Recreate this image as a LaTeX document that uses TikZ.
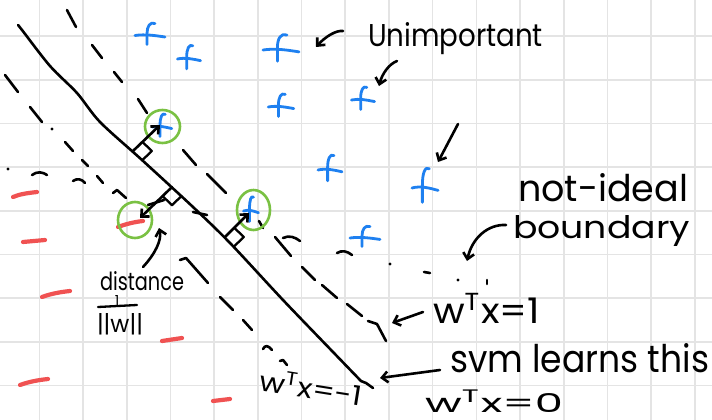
\documentclass[tikz,border=0pt]{standalone}
\usepackage{fontspec}
\setmainfont{Poppins}
\usepackage{graphicx}
\usetikzlibrary{arrows.meta}

\definecolor{gridgray}{HTML}{E4E4E4}
\definecolor{plusblue}{HTML}{1E80F0}
\definecolor{minusred}{HTML}{F05252}
\definecolor{svgreen}{HTML}{7AC143}

% handwritten-size label: width, height above baseline, text
\newcommand\handtext[3]{\resizebox{#1pt}{#2pt}{#3}}

\tikzset{
  ink/.style={line width=2.6pt, line cap=round, line join=round, black},
  gridline/.style={gridgray, line width=1.6pt},
  posstroke/.style={plusblue, line width=2.8pt, line cap=round, line join=round},
  negstroke/.style={minusred, line width=4.2pt, line cap=round},
  sv/.style={svgreen, line width=2.6pt},
  barb/.style={ink, -{Straight Barb[length=6pt,width=11pt]}},
  hand/.style={inner sep=0pt, outer sep=0pt, anchor=base west},
  pics/bplus/.style={code={
    \draw[posstroke] (-15,0) .. controls (-5,-1.5) and (5,0) .. (15,1.5);
    \draw[posstroke] (5,-12) .. controls (0,-14) and (-3,-9) .. (-3,-2) -- (-3,9);
  }},
}

\begin{document}
\begin{tikzpicture}[x=1pt,y=-1pt]
\useasboundingbox (0,0) rectangle (712,420);
\fill[white] (0,0) rectangle (712,420);

% squared paper
\foreach \k in {0,...,15} {
  \draw[gridline] ({39.3+43.7*\k},0) -- ({39.3+43.7*\k},420);
}
\foreach \k in {0,...,8} {
  \draw[gridline] (0,{36+43.7*\k}) -- (712,{36+43.7*\k});
}

% positive samples
\pic[xscale=1.0]               at (150,35.5) {bplus};
\pic[xscale=0.77,yscale=1.1]   at (189,59)   {bplus};
\pic[xscale=1.2,yscale=1.25]   at (281,50)   {bplus};
\pic[xscale=0.85,yscale=1.05]  at (281,107)  {bplus};
\pic[xscale=0.77,yscale=1.05]  at (363,100)  {bplus};
\pic[xscale=0.8,yscale=1.2]    at (330,170)  {bplus};
\pic[xscale=0.87,yscale=1.6]   at (425,188)  {bplus};
\pic[xscale=1.0,yscale=0.95]   at (365,238)  {bplus};
\pic[xscale=0.65,yscale=1.05]  at (162,127)  {bplus};
\pic[xscale=0.5,yscale=1.15]   at (251,211)  {bplus};

% negative samples
\draw[negstroke] (13,197) .. controls (20,194) and (28,193) .. (37,192);
\draw[negstroke] (23,242) -- (45,240);
\draw[negstroke] (118,227) .. controls (126,224) and (134,222) .. (143,221);
\draw[negstroke] (42,297) .. controls (50,294) and (60,292) .. (70,291);
\draw[negstroke] (162,341) -- (182,338);
\draw[negstroke] (20,385) .. controls (28,382) and (38,380) .. (48,379);
\draw[negstroke] (213,401) -- (230,399);

% decision boundary w^T x = 0
\draw[ink] plot[smooth, tension=0.5] coordinates {(18,25) (22,30) (50,66) (77,93) (100,122) (142,160) (193,207) (230,243) (283,300) (333,352) (361,381)} -- (366,383) -- (373,388);

% margin w^T x = 1 (upper)
\draw[ink] (67,10) -- (68,12) -- (76,27);
\draw[ink] (92,45) -- (102,58);
\draw[ink] (114,72) -- (122,82);
\draw[ink] (138,99) -- (147,113);
\draw[ink] (183,150) -- (196,165);
\draw[ink] (207,174) -- (226,193);
\draw[ink] (259,221) -- (263,228);
\draw[ink] (275,237) -- (291,256);
\draw[ink] (302,267) -- (315,280);
\draw[ink] (322,285) -- (337,298);
\draw[ink] (347,304) -- (362,316);
\draw[ink] (368,321) -- (377,324) -- (386,341);

% margin w^T x = -1 (lower)
\draw[ink] (5,75) -- (18,92);
\draw[ink] (30,107) -- (42,122);
\fill (52,129) circle (1.6);
\draw[ink] (65,142) -- (73,151);
\draw[ink] (82,160) -- (88,166);
\draw[ink] (97,176) -- (103,183);
\draw[ink] (113,193) -- (117,190) -- (126,198);
\draw[ink] (180,260) -- (186,258) -- (208,283);
\draw[ink] (220,297) -- (233,310);
\draw[ink] (243,320) -- (252,330);
\draw[ink] (263,349) .. controls (265,345) and (268,345) .. (272,350);
\draw[ink] (280,361) -- (283,360) -- (287,365);

% a worse separating line
\fill (8,169) circle (1.6);
\draw[ink] (32,175) .. controls (37,171) and (43,172) .. (47,175);
\draw[ink] (73,181) .. controls (77,178) and (82,179) .. (85,183);
\draw[ink] (148,205) -- (164,200);
\draw[ink] (193,212) -- (207,215);
\draw[ink] (283,238) .. controls (289,235) and (295,237) .. (300,241);
\draw[ink] (337,253) .. controls (342,250) and (347,251) .. (352,255);
\fill (390,264) circle (1.6);
\draw[ink] (424,272) -- (430,273);
\fill (458,280) circle (1.6);
\draw[ink] (487,280) -- (487,284);

% support vectors
\draw[sv] (162.5,126.5) ellipse [x radius=17.5, y radius=16.5];
\draw[sv] (253.5,210) ellipse [x radius=16.5, y radius=20];
\draw[sv] (135,220) ellipse [x radius=17, y radius=18];

% perpendiculars from the boundary with right-angle marks
\coordinate (f1) at (133,151);  \coordinate (e1) at (160,125);
\coordinate (f2) at (225,237);  \coordinate (e2) at (249,213);
\coordinate (f3) at (172,187);  \coordinate (e3) at (140,218);
\draw[barb] (f1) -- (e1);
\draw[barb] (f2) -- (e2);
\draw[barb] (f3) -- (e3);
\draw[ink, line width=2.3pt] (142.4,160.1) -- (151.8,151) -- (142.4,141.9);
\draw[ink, line width=2.3pt] (234.4,246.1) -- (243.8,237) -- (234.4,227.9);
\draw[ink, line width=2.3pt] (181.4,196.1) -- (172,205.2) -- (162.6,196.1);

% labels
\node[hand] (unimp)    at (368,47)  {\handtext{175}{24}{Unimportant}};
\node[hand] (notideal) at (518,201) {\handtext{170}{28}{not-ideal}};
\node[hand] (bound)    at (513,238) {\handtext{177}{23}{boundary}};
\node[hand] (wone)     at (433,323) {\handtext{107}{30}{w\textsuperscript{T}x=1}};
\node[hand] (svm)      at (450,372) {\handtext{259}{29}{svm learns this}};
\node[hand] (wzero)    at (425,412) {\handtext{138}{22}{w\textsuperscript{T}x=0}};
\node[hand, rotate=-9] (wmone) at (258,390) {\handtext{104}{23}{w\textsuperscript{T}x=-1}};
\node[hand] (dist)     at (100,290) {\handtext{84}{19}{distance}};
\node[inner sep=0pt, anchor=base] (fnum) at (117,305.5) {\resizebox{!}{10pt}{1}};
\node[hand] (fden)     at (97,332)  {\handtext{46}{19}{||w||}};
\coordinate (barl) at (98,307);
\coordinate (barr) at (137,305);
\draw[ink, line width=2.3pt] (barl) -- (barr);

% annotation arrows
\coordinate (a1s) at (343,31);  \coordinate (a1e) at (316,47);
\coordinate (a2s) at (397,61);  \coordinate (a2e) at (379,86);
\coordinate (a3s) at (458,124); \coordinate (a3e) at (438,162);
\coordinate (a4s) at (506,225); \coordinate (a4e) at (467,261);
\coordinate (a5s) at (423,312); \coordinate (a5e) at (392,323);
\coordinate (a6s) at (440,370); \coordinate (a6e) at (380,378);
\coordinate (a7s) at (143,267); \coordinate (a7e) at (159,228);
\draw[barb] (a1s) .. controls (336,30) and (325,37) .. (a1e);
\draw[barb] (a2s) .. controls (389,64) and (382,74) .. (a2e);
\draw[barb] (a3s) -- (a3e);
\draw[barb] (a4s) .. controls (488,224) and (472,238) .. (a4e);
\draw[barb] (a5s) -- (a5e);
\draw[barb] (a6s) -- (a6e);
\draw[barb] (a7s) .. controls (155,254) and (162,240) .. (a7e);
\end{tikzpicture}
\end{document}
